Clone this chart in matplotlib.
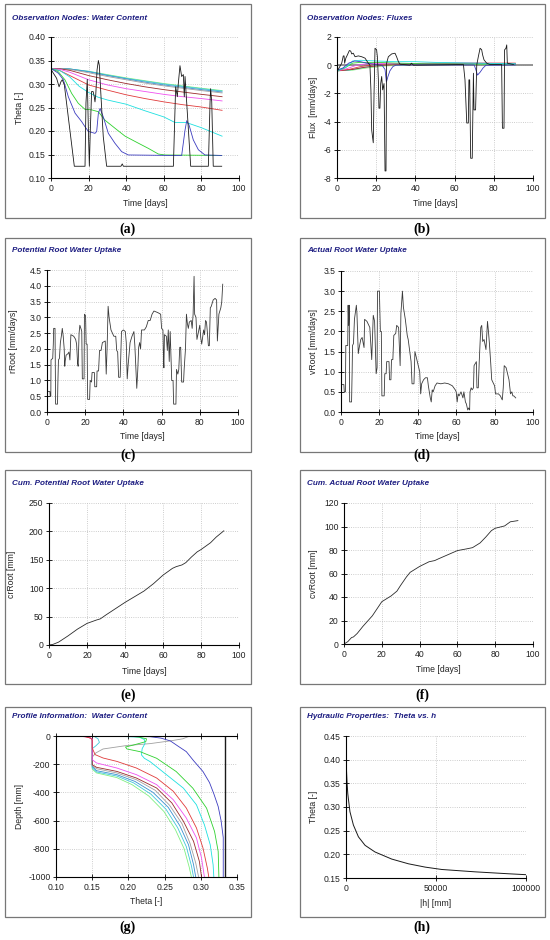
import matplotlib
matplotlib.use('Agg')
import matplotlib.pyplot as plt
from matplotlib.patches import Rectangle

plt.rcParams['font.family'] = ['Liberation Sans', 'DejaVu Sans']
plt.rcParams['font.size'] = 6

# ---------------- data ----------------
# (a) observation nodes: water content, (day, theta)
wc_black = [(0, 0.331), (3, 0.312), (4.3, 0.294), (5.3, 0.305), (6, 0.309), (7.1, 0.298), (12.4, 0.125),
            (18.1, 0.125), (18.6, 0.26), (19.3, 0.31), (19.9, 0.2), (20.4, 0.125), (20.9, 0.2), (21.6, 0.284),
            (22.4, 0.284), (23, 0.273), (23.4, 0.262), (23.8, 0.277), (24.5, 0.33), (25.2, 0.35), (25.7, 0.34),
            (26.6, 0.273), (27.8, 0.188), (29.6, 0.125), (37.2, 0.125), (37.9, 0.13), (38.5, 0.125),
            (65.1, 0.125), (66.3, 0.294), (67.2, 0.273), (67.7, 0.30), (68.6, 0.339), (69.5, 0.316),
            (70.4, 0.32), (70.9, 0.273), (71.3, 0.316), (72.2, 0.259), (74.3, 0.125), (83.7, 0.125),
            (84.6, 0.262), (84.9, 0.29), (85.5, 0.262), (86.3, 0.125), (90.8, 0.125)]
wc_blue = [(0, 0.333), (3.9, 0.323), (6.6, 0.309), (9.2, 0.273), (12.8, 0.238), (16.3, 0.22), (18.1, 0.209),
           (19.9, 0.199), (23.4, 0.195), (24.3, 0.199), (25.2, 0.238), (26.1, 0.248), (27.8, 0.23),
           (30.5, 0.195), (34, 0.174), (37.6, 0.156), (41.1, 0.149), (64.2, 0.148), (69.5, 0.148),
           (71.3, 0.202), (72.2, 0.222), (73.4, 0.213), (75.7, 0.181), (78.4, 0.16), (81.9, 0.149), (90.8, 0.148)]
wc_green = [(0, 0.333), (3.9, 0.326), (7.4, 0.309), (11, 0.28), (14.5, 0.259), (18.1, 0.246), (21.6, 0.245),
            (25.2, 0.241), (28.7, 0.223), (34, 0.206), (39.4, 0.189), (46.5, 0.174), (51.8, 0.163),
            (57.1, 0.151), (60.6, 0.149), (90.8, 0.148)]
wc_cyan = [(0, 0.333), (5, 0.328), (10, 0.315), (15, 0.295), (20, 0.282), (25, 0.272), (30, 0.266), (40, 0.257),
           (50, 0.243), (60, 0.23), (66, 0.218), (72, 0.218), (80, 0.207), (91, 0.189)]
wc_days = [0, 5, 10, 20, 30, 40, 50, 60, 70, 80, 91]
wc_red = [0.333, 0.328, 0.318, 0.298, 0.287, 0.277, 0.269, 0.262, 0.256, 0.251, 0.244]
wc_magenta = [0.333, 0.331, 0.325, 0.309, 0.298, 0.290, 0.284, 0.278, 0.273, 0.269, 0.264]
wc_brown = [0.333, 0.332, 0.329, 0.318, 0.309, 0.301, 0.294, 0.288, 0.283, 0.278, 0.273]
wc_gray = [0.333, 0.333, 0.331, 0.324, 0.316, 0.309, 0.302, 0.296, 0.291, 0.286, 0.281]
wc_steel = [0.333, 0.333, 0.332, 0.326, 0.318, 0.311, 0.304, 0.298, 0.293, 0.288, 0.283]
wc_teal = [0.333, 0.333, 0.332, 0.327, 0.319, 0.312, 0.306, 0.300, 0.295, 0.290, 0.285]
wc_lgreen = [0.333, 0.333, 0.332, 0.327, 0.320, 0.313, 0.307, 0.301, 0.296, 0.291, 0.286]

# (b) observation nodes: fluxes, (day, flux)
fx_black = [(0, -0.45), (2.4, 0.14), (3.2, 0.66), (3.6, 0.66), (3.9, 0.14), (4.5, 0.5), (5.3, 0.73), (6.3, 1.04),
            (7, 1.0), (7.5, 0.8), (8.3, 0.85), (9.2, 0.6), (10.9, 0.66), (12.6, 0.6), (14.3, 0.5), (16, 0.14),
            (16.8, 0.0), (17.3, -1.75), (17.7, -4.6), (18.5, -5.5), (18.9, -2.0), (19.4, 1.2), (20.2, 1.1),
            (20.6, 0.6), (21.1, -1.0), (21.4, -3.05), (21.9, -3.05), (22.3, -1.3), (22.8, -0.8), (23.3, -1.75),
            (24, -1.3), (24.5, -7.5), (25, -7.5), (25.3, 0.14), (26.2, 0.6), (27.9, 0.8), (29.6, 0.85),
            (30.4, 0.6), (31.3, 0.26), (32.1, 0.07), (37.2, 0.0), (38, 0.14), (39, 0.0), (64.5, 0.05),
            (65.3, -1.04), (66.2, -4.1), (67, -4.1), (67.3, -1.04), (67.7, -1.04), (68.2, -6.6), (69, -6.6),
            (69.6, -0.57), (69.9, -3.17), (70.7, -3.17), (71.3, 0.02), (72.1, 0.6), (73, 1.2), (73.8, 1.1),
            (74.3, 0.73), (75, 0.38), (76.4, 0.14), (78, 0.05), (84, 0.05), (84.4, -4.47), (85.2, -4.47),
            (85.5, 1.09), (86.2, 1.2), (86.6, 1.44), (86.9, 0.14), (90, 0.05)]
fx_blue = [(0, -0.35), (3, -0.2), (6, 0.15), (9, 0.3), (12, 0.25), (15, 0.15), (20, 0.05), (23, 0.0),
           (24.5, -0.3), (25.2, -1.2), (26, -0.8), (27, -0.4), (28.5, -0.1), (30, 0.0), (40, 0.02), (70, 0.02),
           (70.8, -0.3), (71.7, -0.7), (73, -0.5), (74.5, -0.2), (76, 0.0), (91, 0.02)]
fx_cyan = [(0, -0.4), (5, -0.1), (8, 0.3), (12, 0.35), (20, 0.3), (30, 0.25), (40, 0.25), (50, 0.2),
           (70, 0.15), (91, 0.1)]
fx_green = [(0, -0.4), (4, -0.2), (8, 0.15), (12, 0.2), (20, 0.2), (30, 0.15), (45, 0.1), (91, 0.08)]
fx_magenta = [(0, -0.4), (5, -0.25), (10, 0.0), (15, 0.1), (25, 0.12), (45, 0.12), (60, 0.15), (91, 0.12)]
fx_red = [(0, -0.4), (6, -0.3), (12, -0.1), (20, 0.05), (30, 0.1), (50, 0.15), (91, 0.15)]
fx_brown = [(0, -0.4), (8, -0.3), (14, -0.15), (24, 0.0), (40, 0.08), (91, 0.12)]
fx_teal = [(0, -0.4), (6, -0.35), (12, -0.2), (20, 0.0), (35, 0.1), (91, 0.1)]
fx_lgreen = [(0, -0.4), (8, -0.35), (15, -0.2), (25, -0.05), (40, 0.05), (91, 0.08)]

# (c) potential root water uptake, (day, rRoot)
r_root = [(0, 0.5), (0.3, 0.65), (1.5, 0.65), (1.7, 0.5), (2, 0.5), (2.1, 1.65), (3, 1.7), (3.3, 2.15), (3.5, 2.65),
          (4.2, 2.65), (4.5, 0.25), (5.5, 0.25), (5.7, 0.95), (6, 1.65), (6.5, 1.7), (7, 2.2), (7.5, 2.4),
          (8, 2.65), (8.5, 2.4), (9, 2.0), (9.3, 1.45), (9.5, 1.6), (10, 1.8), (11, 1.85), (11.5, 1.9),
          (12, 1.65), (12.5, 2.45), (14, 2.4), (15, 2.3), (15.5, 2.15), (16, 1.55), (16.3, 1.45), (16.8, 2.5),
          (17.2, 2.75), (18, 2.6), (18.2, 2.55), (18.5, 1.05), (19.4, 1.05), (19.6, 3.1), (20.2, 3.05),
          (20.5, 2.15), (21, 2.15), (21.3, 0.4), (22.3, 0.4), (22.6, 1.0), (23.3, 0.95), (23.6, 1.25),
          (24.8, 1.25), (25, 0.8), (26, 0.8), (26.2, 1.3), (27, 1.3), (27.5, 1.95), (28.3, 1.95), (29, 2.2),
          (30.5, 2.25), (31, 1.2), (31.5, 2.1), (32, 3.35), (32.5, 3.0), (33.5, 2.6), (35, 2.4), (36, 2.4),
          (36.5, 1.95), (37, 1.9), (37.5, 1.1), (38.3, 1.1), (39, 2.55), (40, 2.6), (41, 2.55), (41.5, 2.2),
          (42, 1.05), (42.5, 1.5), (43.5, 2.2), (44.5, 2.4), (45.5, 2.55), (46, 2.1), (46.5, 1.4), (47, 0.75),
          (47.5, 1.3), (48, 2.05), (48.5, 2.2), (49, 2.0), (49.5, 2.6), (51, 2.6), (52, 2.7), (53, 2.9),
          (54, 2.9), (55, 3.1), (56, 3.2), (58, 3.15), (59.5, 3.1), (60, 2.65), (60.7, 2.6), (61, 1.65),
          (61.2, 1.4), (61.5, 2.45), (62.5, 2.4), (63, 1.95), (63.5, 2.6), (64, 1.6), (64.5, 2.55), (65, 1.6),
          (65.3, 1.0), (66, 1.0), (66.3, 0.25), (67.5, 0.25), (67.8, 1.35), (68.5, 1.2), (69, 1.35),
          (69.5, 2.05), (70, 2.05), (70.5, 0.95), (71.5, 0.95), (71.8, 1.35), (72.5, 2.0), (73, 3.1),
          (73.5, 2.8), (74, 2.65), (74.5, 2.85), (75.5, 2.9), (76, 2.65), (76.5, 3.1), (77, 4.3), (77.3, 3.1),
          (78, 3.0), (78.5, 2.3), (79, 2.45), (80, 2.75), (80.5, 2.35), (81, 2.15), (82, 2.6), (82.5, 2.45),
          (83, 2.9), (83.5, 2.85), (84, 2.5), (84.5, 2.1), (85, 2.1), (85.5, 3.3), (86, 3.35), (87, 3.55),
          (88, 3.6), (88.8, 3.55), (89.2, 2.25), (90, 3.1), (91, 3.3), (91.5, 3.5), (92, 4.05)]

# (d) actual root water uptake, (day, vRoot)
v_root = [(0, 0.5), (0.3, 0.68), (1.5, 0.68), (1.7, 0.5), (2.3, 0.5), (2.5, 1.65), (3.5, 1.65), (3.7, 2.65),
          (4, 2.15), (4.3, 2.65), (4.5, 0.25), (5.5, 0.25), (5.8, 1.0), (6, 1.65), (6.5, 1.7), (7, 2.3),
          (8, 2.65), (8.3, 2.45), (9, 1.45), (9.5, 1.6), (10.3, 1.8), (11, 1.85), (12, 1.6), (12.3, 2.3),
          (13.5, 2.25), (15, 2.1), (16, 1.3), (16.8, 2.4), (17.5, 2.25), (18.3, 0.95), (18.8, 1.1), (19, 3.0),
          (20, 3.0), (20.5, 2.0), (21, 2.0), (21.3, 0.4), (22.5, 0.4), (22.8, 0.95), (23.5, 0.95), (23.8, 1.25),
          (25, 1.25), (25.3, 0.8), (26, 0.8), (26.3, 1.3), (27, 1.3), (27.5, 1.9), (28.5, 1.95), (29, 2.15),
          (30, 2.1), (30.8, 1.15), (31.2, 2.45), (32, 3.0), (32.5, 2.6), (33.5, 2.3), (34.5, 1.9), (35, 1.8),
          (35.8, 1.5), (36.5, 1.25), (37, 0.7), (38, 0.7), (38.5, 1.5), (39.5, 1.3), (40, 1.2), (41, 1.0),
          (41.5, 0.45), (42, 0.7), (43, 0.8), (44, 0.85), (45, 0.85), (45.5, 0.65), (46.5, 0.35), (47, 0.25),
          (47.5, 0.55), (48, 0.5), (49, 0.65), (50, 0.72), (52, 0.7), (54, 0.72), (56, 0.7), (58, 0.65),
          (59.5, 0.55), (60, 0.5), (60.5, 0.25), (61, 0.45), (61.5, 0.4), (62.5, 0.5), (63.5, 0.35), (64, 0.5),
          (64.8, 0.25), (65.3, 0.2), (66, 0.05), (66.5, 0.1), (67, 0.05), (67.2, 0.5), (67.8, 0.6), (68.3, 0.55),
          (69, 0.6), (69.3, 1.15), (70.5, 1.25), (70.8, 0.6), (71.5, 0.6), (72, 1.25), (72.8, 2.1), (73.3, 2.15),
          (73.8, 1.75), (74.5, 1.8), (75.5, 1.55), (76.3, 2.25), (76.8, 2.0), (77.3, 1.7), (78, 1.2), (78.5, 0.8),
          (79, 0.75), (80, 0.65), (80.5, 0.45), (82, 0.45), (83, 0.4), (84, 0.3), (84.5, 0.6), (85, 1.15),
          (86, 1.1), (86.5, 1.0), (87.5, 0.8), (88.3, 0.45), (89, 0.5), (89.5, 0.4), (90, 0.4), (91, 0.35)]

# (e) cumulative potential, (f) cumulative actual
cr_root = [(0, 0), (2, 1), (5, 5), (10, 16), (15, 28), (20, 38), (25, 44), (27, 46), (30, 53), (35, 64), (40, 75),
           (45, 85), (50, 95), (55, 108), (60, 123), (65, 135), (67, 138), (70, 141), (72, 145), (75, 155),
           (78, 164), (80, 168), (85, 180), (88, 190), (92, 201)]
cv_root = [(0, 0), (2, 2), (4, 5.5), (5, 6), (7, 9), (10, 15), (15, 24), (20, 36), (22, 38), (25, 41), (28, 45),
           (30, 50), (33, 57), (35, 61), (40, 66), (45, 70), (48, 71), (50, 72.5), (55, 76), (60, 79.5), (65, 81),
           (68, 82), (72, 86), (75, 91), (78, 96.5), (80, 98.5), (85, 100.5), (88, 104), (92, 105)]

# (g) profile water content, (theta, depth)
pr_black = [(0.333, 0), (0.333, -1000)]
pr_blue = [(0.19, 0), (0.23, -5), (0.245, -15), (0.258, -35), (0.268, -70), (0.28, -111), (0.29, -175),
           (0.303, -252), (0.312, -330), (0.318, -410), (0.324, -500), (0.328, -600), (0.331, -720), (0.331, -1000)]
pr_green = [(0.20, 0), (0.215, -8), (0.225, -20), (0.224, -40), (0.207, -64), (0.196, -78), (0.198, -92),
            (0.216, -111), (0.239, -158), (0.266, -252), (0.289, -370), (0.308, -512), (0.319, -677),
            (0.324, -818), (0.325, -1000)]
pr_cyan = [(0.135, 0), (0.19, -3), (0.215, -8), (0.222, -25), (0.223, -52), (0.219, -90), (0.218, -134),
           (0.222, -158), (0.23, -182), (0.253, -276), (0.276, -370), (0.294, -488), (0.305, -630),
           (0.313, -771), (0.317, -913), (0.318, -1000)]
pr_red = [(0.125, 0), (0.14, -5), (0.148, -15), (0.15, -30), (0.15, -85), (0.154, -132), (0.165, -156),
          (0.184, -180), (0.211, -227), (0.239, -298), (0.262, -392), (0.28, -511), (0.294, -652), (0.303, -794),
          (0.309, -936), (0.311, -1000)]
pr_magenta = [(0.13, 0), (0.145, -8), (0.15, -20), (0.15, -168), (0.156, -191), (0.184, -227), (0.211, -274),
              (0.239, -345), (0.262, -452), (0.28, -582), (0.294, -723), (0.301, -865), (0.305, -1000)]
pr_brown = [(0.14, 0), (0.15, -20), (0.15, -203), (0.156, -222), (0.184, -251), (0.211, -298), (0.239, -369),
            (0.26, -475), (0.276, -605), (0.29, -747), (0.298, -889), (0.301, -1000)]
pr_gray = [(0.285, 0), (0.275, -20), (0.26, -33), (0.23, -54), (0.197, -68), (0.165, -92), (0.155, -120),
           (0.15, -150), (0.15, -210), (0.156, -232), (0.184, -262), (0.211, -310), (0.237, -385), (0.257, -492),
           (0.274, -622), (0.285, -759), (0.293, -901), (0.297, -1000)]
pr_steel = [(0.15, -30), (0.15, -215), (0.156, -246), (0.184, -274), (0.209, -322), (0.234, -400), (0.255, -506),
            (0.271, -636), (0.283, -771), (0.29, -913), (0.293, -1000)]
pr_teal = [(0.152, 0), (0.158, -20), (0.16, -45), (0.155, -70), (0.15, -90), (0.15, -225), (0.156, -255),
           (0.184, -284), (0.207, -332), (0.231, -412), (0.252, -520), (0.268, -650), (0.28, -785), (0.287, -920),
           (0.29, -1000)]
pr_lgreen = [(0.15, -30), (0.15, -235), (0.156, -262), (0.184, -295), (0.205, -345), (0.228, -425),
             (0.249, -535), (0.265, -665), (0.277, -800), (0.284, -930), (0.287, -1000)]

# (h) retention curve, (|h|, theta)
ret_curve = [(0, 0.41), (100, 0.40), (300, 0.375), (600, 0.35), (1000, 0.328), (1300, 0.318), (2200, 0.29),
             (4100, 0.262), (6900, 0.237), (10600, 0.219), (16100, 0.205), (25400, 0.19), (34700, 0.18),
             (44000, 0.173), (53200, 0.168), (71800, 0.163), (90000, 0.159), (100000, 0.157)]

# ---------------- layout ----------------
W, H = 550, 940
TITLE_C = '#1e1e82'
C = {'black': '#1a1a1a', 'blue': '#3c3cc0', 'green': '#2ed12e', 'cyan': '#1ee0e0', 'red': '#e03a3a',
     'magenta': '#f050f0', 'brown': '#9a2a2a', 'gray': '#a0a0a0', 'steel': '#3a8fd0', 'teal': '#40c8d8',
     'lgreen': '#80f080'}

fig = plt.figure(figsize=(5.5, 9.4), dpi=100)


def frac(l, t, r, b):
    return [l / W, 1 - b / H, (r - l) / W, (b - t) / H]


def xy(pts):
    return [p[0] for p in pts], [p[1] for p in pts]


frames = [(5, 4, 251, 218), (300, 4, 545, 218), (5, 238, 251, 452), (300, 238, 545, 452),
          (5, 470, 251, 684), (300, 470, 545, 684), (5, 707, 251, 917), (300, 707, 545, 917)]
for l, t, r, b in frames:
    fig.patches.append(Rectangle((l / W, 1 - b / H), (r - l) / W, (b - t) / H, transform=fig.transFigure,
                                 fill=False, edgecolor='#777777', lw=0.9))


def panel(box, xlim, ylim, xticks, yticks, title, tpos, ylabel, ylx, xlabel, xly, letter, lpos, yfmt):
    ax = fig.add_axes(frac(*box))
    ax.set_xlim(*xlim)
    ax.set_ylim(*ylim)
    ax.set_xticks(xticks)
    ax.set_yticks(yticks)
    ax.set_yticklabels([yfmt.format(v) for v in yticks])
    for s in ['top', 'right']:
        ax.spines[s].set_visible(False)
    for s in ['left', 'bottom']:
        ax.spines[s].set_linewidth(0.8)
    ax.tick_params(direction='inout', length=4, width=0.7, pad=2, labelsize=6.2, colors='#222222')
    ax.grid(True, linestyle=':', color='#bdbdbd', lw=0.6)
    ax.set_axisbelow(True)
    fig.text(tpos[0] / W, 1 - tpos[1] / H, title, color=TITLE_C, fontsize=5.9, fontweight='bold',
             fontstyle='italic', ha='left', va='center')
    cy = (box[1] + box[3]) / 2
    fig.text(ylx / W, 1 - cy / H, ylabel, rotation=90, ha='center', va='center', fontsize=6.2, color='#222222')
    cx = (box[0] + box[2]) / 2
    fig.text(cx / W, 1 - xly / H, xlabel, ha='center', va='center', fontsize=6.2, color='#222222')
    fig.text(lpos[0] / W, 1 - lpos[1] / H, letter, ha='center', va='center', fontsize=10,
             family=['Liberation Serif', 'DejaVu Serif'], fontweight='bold')
    return ax


days_ticks = [0, 20, 40, 60, 80, 100]
lw = 0.6

# (a)
ax = panel((51, 37, 239, 178), (0, 100), (0.10, 0.40), days_ticks, [0.10, 0.15, 0.20, 0.25, 0.30, 0.35, 0.40],
           'Observation Nodes: Water Content', (12, 18), 'Theta [-]', 20, 'Time [days]', 204,
           '(a)', (128, 229), '{:.2f}')
for name, vals in [('lgreen', wc_lgreen), ('teal', wc_teal), ('steel', wc_steel), ('gray', wc_gray),
                   ('brown', wc_brown), ('magenta', wc_magenta), ('red', wc_red)]:
    ax.plot(wc_days, vals, color=C[name], lw=lw)
ax.plot(*xy(wc_cyan), color=C['cyan'], lw=lw)
ax.plot(*xy(wc_green), color=C['green'], lw=lw)
ax.plot(*xy(wc_blue), color=C['blue'], lw=lw)
ax.plot(*xy(wc_black), color=C['black'], lw=lw)

# (b)
ax = panel((337, 37, 533, 178), (0, 100), (-8, 2), days_ticks, [-8, -6, -4, -2, 0, 2],
           'Observation Nodes: Fluxes', (307, 18), 'Flux  [mm/days]', 313, 'Time [days]', 204,
           '(b)', (422, 229), '{:d}')
ax.axhline(0, color='#8c8c8c', lw=1.3, zorder=1.5)
for name, pts in [('lgreen', fx_lgreen), ('teal', fx_teal), ('brown', fx_brown), ('red', fx_red),
                  ('magenta', fx_magenta), ('green', fx_green), ('cyan', fx_cyan), ('blue', fx_blue)]:
    ax.plot(*xy(pts), color=C[name], lw=lw)
ax.plot(*xy(fx_black), color=C['black'], lw=lw)

# (c)
ax = panel((47, 270, 238, 412), (0, 100), (0, 4.5), days_ticks, [0, 0.5, 1, 1.5, 2, 2.5, 3, 3.5, 4, 4.5],
           'Potential Root Water Uptake', (12, 251), 'rRoot [mm/days]', 13, 'Time [days]', 437,
           '(c)', (128, 455), '{:.1f}')
ax.plot(*xy(r_root), color='#3a3a3a', lw=lw)

# (d)
ax = panel((341, 271, 533, 412), (0, 100), (0, 3.5), days_ticks, [0, 0.5, 1, 1.5, 2, 2.5, 3, 3.5],
           'Actual Root Water Uptake', (307, 251), 'vRoot [mm/days]', 313, 'Time [days]', 437,
           '(d)', (422, 455), '{:.1f}')
ax.plot(*xy(v_root), color='#3a3a3a', lw=lw)

# (e)
ax = panel((49, 503, 239, 645), (0, 100), (0, 250), days_ticks, [0, 50, 100, 150, 200, 250],
           'Cum. Potential Root Water Uptake', (12, 484), 'crRoot [mm]', 12, 'Time [days]', 671,
           '(e)', (128, 695), '{:d}')
ax.plot(*xy(cr_root), color='#2a2a2a', lw=lw)

# (f)
ax = panel((344, 503, 533, 644), (0, 100), (0, 120), days_ticks, [0, 20, 40, 60, 80, 100, 120],
           'Cum. Actual Root Water Uptake', (307, 484), 'cvRoot [mm]', 313, 'Time [days]', 670,
           '(f)', (422, 695), '{:d}')
ax.plot(*xy(cv_root), color='#2a2a2a', lw=lw)

# (g)
ax = panel((56, 736, 237, 877), (0.10, 0.35), (-1000, 0), [0.10, 0.15, 0.20, 0.25, 0.30, 0.35],
           [-1000, -800, -600, -400, -200, 0],
           'Profile Information:  Water Content', (12, 717), 'Depth [mm]', 20, 'Theta [-]', 902,
           '(g)', (128, 927), '{:d}')
ax.set_xticklabels(['0.10', '0.15', '0.20', '0.25', '0.30', '0.35'])
ax.spines['top'].set_visible(True)
ax.spines['top'].set_linewidth(0.8)
ax.tick_params(axis='x', top=True)
for name, pts in [('lgreen', pr_lgreen), ('teal', pr_teal), ('steel', pr_steel), ('gray', pr_gray),
                  ('brown', pr_brown), ('magenta', pr_magenta), ('red', pr_red), ('cyan', pr_cyan),
                  ('green', pr_green), ('blue', pr_blue)]:
    ax.plot(*xy(pts), color=C[name], lw=lw)
ax.plot(*xy(pr_black), color=C['black'], lw=1.0)

# (h)
ax = panel((346, 736, 526, 878), (0, 100000), (0.15, 0.45), [0, 50000, 100000],
           [0.15, 0.20, 0.25, 0.30, 0.35, 0.40, 0.45],
           'Hydraulic Properties:  Theta vs. h', (307, 717), 'Theta [-]', 313, '|h| [mm]', 904,
           '(h)', (422, 927), '{:.2f}')
ax.set_xticklabels(['0', '50000', '100000'])
ax.plot(*xy(ret_curve), color='#1a1a1a', lw=0.7)

fig.savefig('out.png', dpi=100, facecolor='white')
